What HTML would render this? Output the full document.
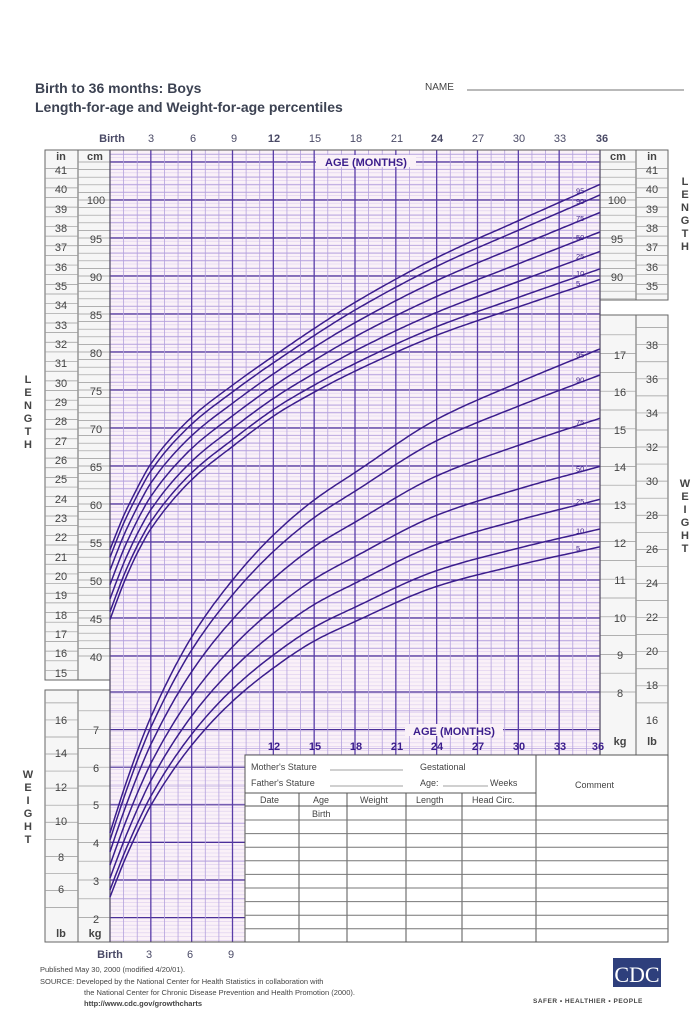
<!DOCTYPE html>
<html><head><meta charset="utf-8"><style>
body{margin:0;background:#fff;}
svg{display:block;font-family:"Liberation Sans",sans-serif;}
</style></head><body>
<svg id="s" width="698" height="1012" viewBox="0 0 698 1012" xmlns="http://www.w3.org/2000/svg">
<rect width="698" height="1012" fill="#fff"/>
<rect x="45" y="150" width="65" height="530" fill="#f6f6f6" stroke="#666" stroke-width="1"/>
<line x1="78" y1="150" x2="78" y2="680" stroke="#666"/>
<rect x="45" y="690" width="65" height="252" fill="#f6f6f6" stroke="#666" stroke-width="1"/>
<line x1="78" y1="690" x2="78" y2="942" stroke="#666"/>
<rect x="600" y="150" width="68" height="150" fill="#f6f6f6" stroke="#666"/>
<line x1="636" y1="150" x2="636" y2="300" stroke="#666"/>
<rect x="600" y="315" width="68" height="440" fill="#f6f6f6" stroke="#666"/>
<line x1="636" y1="315" x2="636" y2="755" stroke="#666"/>
<g id="side"></g>
<rect x="110" y="150" width="490" height="792" fill="#faf1f8"/>
<g id="grid"></g>
<g id="curves" fill="none" stroke="#3b1d8c" stroke-width="1.5"></g>
<rect x="245" y="755" width="423" height="187" fill="#fff" stroke="#555"/>
<g stroke="#555" stroke-width="1">
<line x1="245" y1="793" x2="536" y2="793"/><line x1="245" y1="806" x2="668" y2="806"/>
<line x1="536" y1="755" x2="536" y2="942"/>
<line x1="299" y1="793" x2="299" y2="942"/><line x1="347" y1="793" x2="347" y2="942"/>
<line x1="406" y1="793" x2="406" y2="942"/><line x1="462" y1="793" x2="462" y2="942"/>
</g>
<g id="rows" stroke="#777" stroke-width="1"></g>
<g font-size="9" fill="#444">
<text x="251" y="770">Mother's Stature</text><line x1="330" y1="770" x2="403" y2="770" stroke="#444" stroke-width=".6"/>
<text x="251" y="786">Father's Stature</text><line x1="330" y1="786" x2="403" y2="786" stroke="#444" stroke-width=".6"/>
<text x="420" y="770">Gestational</text>
<text x="420" y="786">Age:</text><line x1="443" y1="786" x2="488" y2="786" stroke="#444" stroke-width=".6"/><text x="490" y="786">Weeks</text>
<text x="575" y="788">Comment</text>
<text x="260" y="803">Date</text><text x="313" y="803">Age</text><text x="360" y="803">Weight</text>
<text x="416" y="803">Length</text><text x="472" y="803">Head  Circ.</text>
<text x="312" y="817">Birth</text>
</g>
<g fill="#3c4252" font-weight="bold" font-size="14">
<text x="35" y="93">Birth to 36 months: Boys</text>
<text x="35" y="112">Length-for-age and Weight-for-age percentiles</text>
</g>
<text x="425" y="90" font-size="10" fill="#444">NAME</text>
<line x1="467" y1="90" x2="684" y2="90" stroke="#444" stroke-width=".8"/>
<g font-size="11" fill="#4a4a66" text-anchor="middle">
<text x="112" y="142" font-weight="bold">Birth</text><text x="151" y="142">3</text><text x="193" y="142">6</text><text x="234" y="142">9</text>
<text x="274" y="142" font-weight="bold">12</text><text x="315" y="142">15</text><text x="356" y="142">18</text><text x="397" y="142">21</text>
<text x="437" y="142" font-weight="bold">24</text><text x="478" y="142">27</text><text x="519" y="142">30</text><text x="560" y="142">33</text><text x="602" y="142" font-weight="bold">36</text>
</g>
<g font-size="11" fill="#4a4a66" text-anchor="middle">
<text x="110" y="958" font-weight="bold">Birth</text><text x="149" y="958">3</text><text x="190" y="958">6</text><text x="231" y="958">9</text>
</g>
<g font-size="11" fill="#3b1d8c" font-weight="bold" text-anchor="middle">
<rect x="316" y="155" width="100" height="12" fill="#faf1f8"/>
<text x="366" y="166">AGE (MONTHS)</text>
<rect x="405" y="724" width="98" height="12" fill="#faf1f8"/>
<text x="454" y="735">AGE (MONTHS)</text>
<text x="274" y="750">12</text><text x="315" y="750">15</text><text x="356" y="750">18</text><text x="397" y="750">21</text>
<text x="437" y="750">24</text><text x="478" y="750">27</text><text x="519" y="750">30</text><text x="560" y="750">33</text><text x="598" y="750">36</text>
</g>
<g font-size="11" font-weight="bold" fill="#444" text-anchor="middle">
<text x="61" y="160">in</text><text x="95" y="160">cm</text>
<text x="618" y="160">cm</text><text x="652" y="160">in</text>
<text x="61" y="937">lb</text><text x="95" y="937">kg</text>
<text x="620" y="745">kg</text><text x="652" y="745">lb</text>
</g>
<g font-size="11" font-weight="bold" fill="#444" text-anchor="middle">
<text x="28" y="383">L</text><text x="28" y="396">E</text><text x="28" y="409">N</text><text x="28" y="422">G</text><text x="28" y="435">T</text><text x="28" y="448">H</text>
<text x="28" y="778">W</text><text x="28" y="791">E</text><text x="28" y="804">I</text><text x="28" y="817">G</text><text x="28" y="830">H</text><text x="28" y="843">T</text>
<text x="685" y="185">L</text><text x="685" y="198">E</text><text x="685" y="211">N</text><text x="685" y="224">G</text><text x="685" y="237">T</text><text x="685" y="250">H</text>
<text x="685" y="487">W</text><text x="685" y="500">E</text><text x="685" y="513">I</text><text x="685" y="526">G</text><text x="685" y="539">H</text><text x="685" y="552">T</text>
</g>
<g font-size="11" fill="#444" text-anchor="middle">
<text x="61" y="174">41</text><text x="61" y="193">40</text><text x="61" y="213">39</text><text x="61" y="232">38</text><text x="61" y="251">37</text><text x="61" y="271">36</text><text x="61" y="290">35</text><text x="61" y="309">34</text><text x="61" y="329">33</text><text x="61" y="348">32</text><text x="61" y="367">31</text><text x="61" y="387">30</text><text x="61" y="406">29</text><text x="61" y="425">28</text><text x="61" y="445">27</text><text x="61" y="464">26</text><text x="61" y="483">25</text><text x="61" y="503">24</text><text x="61" y="522">23</text><text x="61" y="541">22</text><text x="61" y="561">21</text><text x="61" y="580">20</text><text x="61" y="599">19</text><text x="61" y="619">18</text><text x="61" y="638">17</text><text x="61" y="657">16</text><text x="61" y="677">15</text>
<text x="96" y="204">100</text><text x="96" y="243">95</text><text x="96" y="281">90</text><text x="96" y="319">85</text><text x="96" y="357">80</text><text x="96" y="395">75</text><text x="96" y="433">70</text><text x="96" y="471">65</text><text x="96" y="509">60</text><text x="96" y="547">55</text><text x="96" y="585">50</text><text x="96" y="623">45</text><text x="96" y="661">40</text>
<text x="61" y="724">16</text><text x="61" y="757">14</text><text x="61" y="791">12</text><text x="61" y="825">10</text><text x="61" y="861">8</text><text x="61" y="893">6</text>
<text x="96" y="734">7</text><text x="96" y="772">6</text><text x="96" y="809">5</text><text x="96" y="847">4</text><text x="96" y="885">3</text><text x="96" y="923">2</text>
<text x="617" y="204">100</text><text x="617" y="243">95</text><text x="617" y="281">90</text>
<text x="652" y="174">41</text><text x="652" y="193">40</text><text x="652" y="213">39</text><text x="652" y="232">38</text><text x="652" y="251">37</text><text x="652" y="271">36</text><text x="652" y="290">35</text>
<text x="620" y="359">17</text><text x="620" y="396">16</text><text x="620" y="434">15</text><text x="620" y="471">14</text><text x="620" y="509">13</text><text x="620" y="547">12</text><text x="620" y="584">11</text><text x="620" y="622">10</text><text x="620" y="659">9</text><text x="620" y="697">8</text>
<text x="652" y="349">38</text><text x="652" y="383">36</text><text x="652" y="417">34</text><text x="652" y="451">32</text><text x="652" y="485">30</text><text x="652" y="519">28</text><text x="652" y="553">26</text><text x="652" y="587">24</text><text x="652" y="621">22</text><text x="652" y="655">20</text><text x="652" y="689">18</text><text x="652" y="724">16</text>
</g>
<g id="plab" font-size="7.5" fill="#3b1d8c"></g>
<g font-size="7.5" fill="#444">
<text x="40" y="972">Published May 30, 2000 (modified 4/20/01).</text>
<text x="40" y="984">SOURCE: Developed by the National Center for Health Statistics in collaboration with</text>
<text x="84" y="995">the National Center for Chronic Disease Prevention and Health Promotion (2000).</text>
<text x="84" y="1006" font-weight="bold">http://www.cdc.gov/growthcharts</text>
</g>
<rect x="613" y="958" width="48" height="29" fill="#2e3f7c"/>
<text x="637" y="982" font-family="Liberation Serif,serif" font-size="22" fill="#fff" text-anchor="middle">CDC</text>
<text x="533" y="1003" font-size="6.5" font-weight="bold" fill="#444" letter-spacing=".5">SAFER • HEALTHIER • PEOPLE</text>
</svg>
<script>
var NS="http://www.w3.org/2000/svg";
function el(p,t,a){var e=document.createElementNS(NS,t);for(var k in a)e.setAttribute(k,a[k]);document.getElementById(p).appendChild(e);return e;}
var X0=110,PX=490/36;
function xm(m){return X0+m*PX;}
function ycm(c){return 200+(100-c)*7.6;}
function ykg(w){return 692-(w-8)*37.6;}
for(var y=150;y<=942;y+=3.8){el("grid","line",{x1:110,x2:600,y1:y,y2:y,stroke:"#dccdee","stroke-width":.6});}
for(var c=40;c<=106;c++){var yy=ycm(c);if(yy<150||yy>690)continue;el("grid","line",{x1:110,x2:600,y1:yy,y2:yy,stroke:c%5==0?"#4b2f99":"#b6a2dd","stroke-width":c%5==0?1.2:.8});}
for(var w=2;w<=8;w+=0.5){var yy=ykg(w);if(yy<690)continue;el("grid","line",{x1:110,x2:600,y1:yy,y2:yy,stroke:w%1==0?"#4b2f99":"#b6a2dd","stroke-width":w%1==0?1.2:.8});}
for(var m=0;m<=36;m++){var x=xm(m);el("grid","line",{x1:x,x2:x,y1:150,y2:942,stroke:m%3==0?"#5a3da8":"#b3a1dd","stroke-width":m%3==0?1.3:.8});}
el("grid","rect",{x:110,y:150,width:490,height:792,fill:"none",stroke:"#555"});
function tick(x1,x2,y){el("side","line",{x1:x1,x2:x2,y1:y,y2:y,stroke:"#999","stroke-width":.7});}
for(var c=40;c<=105;c++){var yy=ycm(c);if(yy>152&&yy<680){tick(78,110,yy);} if(yy>152&&yy<300)tick(600,636,yy);}
for(var i=15;i<=41;i+=0.5){var yy=ycm(i*2.54);if(yy>152&&yy<680)tick(45,78,yy);if(yy>152&&yy<300)tick(636,668,yy);}
for(var w=2;w<=7.6;w+=0.5){tick(78,110,ykg(w));}
for(var w=8;w<=18;w+=0.5){var yy=ykg(w);if(yy>316)tick(600,636,yy);}
for(var l=5;l<=17;l+=1){var yy=ykg(l/2.2046);if(yy>692&&yy<942)tick(45,78,yy);}
for(var l=17;l<=39;l+=1){var yy=ykg(l/2.2046);if(yy>316&&yy<755)tick(636,668,yy);}
for(var r=820;r<942;r+=13.6){el("rows","line",{x1:245,x2:668,y1:r,y2:r});}
var M=[0,1,2,3,6,9,12,15,18,24,30,36];
// PCHIP
function pchip(xs,ys){var n=xs.length,h=[],d=[],m=[];
 for(var i=0;i<n-1;i++){h[i]=xs[i+1]-xs[i];d[i]=(ys[i+1]-ys[i])/h[i];}
 m[0]=d[0];m[n-1]=d[n-2];
 for(var i=1;i<n-1;i++){if(d[i-1]*d[i]<=0)m[i]=0;else{var w1=2*h[i]+h[i-1],w2=h[i]+2*h[i-1];m[i]=(w1+w2)/(w1/d[i-1]+w2/d[i]);}}
 return function(t){var i=0;while(i<n-2&&t>xs[i+1])i++;var hh=h[i],s=(t-xs[i])/hh;
  var h00=2*s*s*s-3*s*s+1,h10=s*s*s-2*s*s+s,h01=-2*s*s*s+3*s*s,h11=s*s*s-s*s;
  return h00*ys[i]+h10*hh*m[i]+h01*ys[i+1]+h11*hh*m[i+1];};}
var L50=pchip(M,[49.4,54,57.8,61,67.3,71.6,75.5,78.9,82,87.3,91.6,95.8]);
var LSD=pchip(M,[2.8,2.7,2.6,2.6,2.5,2.45,2.4,2.55,2.75,3.1,3.45,3.8]);
var W50=pchip(M,[3.4,4.4,5.3,6.1,7.9,9.2,10.2,11.0,11.6,12.7,13.4,14.0]);
var WSU=pchip(M,[.52,.6,.68,.75,.95,1.08,1.2,1.28,1.36,1.55,1.72,1.9]);
var WSL=pchip(M,[.52,.57,.63,.68,.8,.88,.95,1.0,1.05,1.15,1.23,1.3]);
var Z=[[-1.645,"5"],[-1.28,"10"],[-0.674,"25"],[0,"50"],[0.674,"75"],[1.28,"90"],[1.645,"95"]];
function Lv(t,z){return L50(t)+z*LSD(t);}
function Wv(t,z){return W50(t)+z*(z>0?WSU(t):WSL(t));}
Z.forEach(function(z){
 var dL="",dW="";
 for(var t=0;t<=36.001;t+=0.2){
  dL+=(t==0?"M":"L")+xm(t).toFixed(1)+" "+ycm(Lv(t,z[0])).toFixed(1);
  dW+=(t==0?"M":"L")+xm(t).toFixed(1)+" "+ykg(Wv(t,z[0])).toFixed(1);
 }
 el("curves","path",{d:dL});el("curves","path",{d:dW});
 var a=el("plab","text",{x:576,y:ycm(Lv(34.3,z[0]))-1});a.textContent=z[1];
 var b=el("plab","text",{x:576,y:ykg(Wv(34.3,z[0]))-1});b.textContent=z[1];
});
</script>
</body></html>
